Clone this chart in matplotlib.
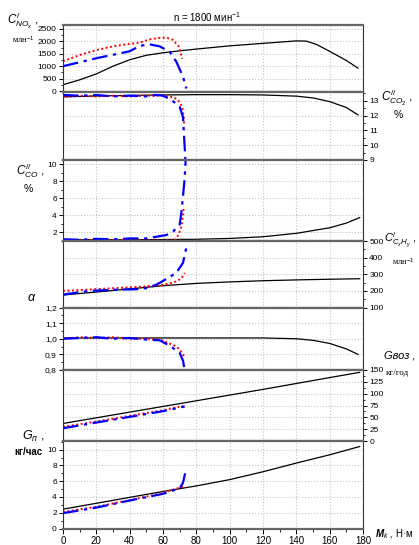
import matplotlib
matplotlib.use('Agg')
import matplotlib.pyplot as plt
from matplotlib.ticker import MultipleLocator, FuncFormatter

plt.rcParams['font.family'] = ['Liberation Sans', 'DejaVu Sans']
plt.rcParams['mathtext.fontset'] = 'custom'
plt.rcParams['mathtext.rm'] = 'Liberation Sans'
plt.rcParams['mathtext.it'] = 'Liberation Sans:italic'
plt.rcParams['mathtext.bf'] = 'Liberation Sans:bold:italic'

# ---- data (x = torque M_k, N*m) ----
# NOx, ppm
nox_k_x = [0, 10, 20, 30, 40, 50, 60, 70, 80, 100, 120, 140, 146, 152, 160, 170, 177]
nox_k_y = [250, 450, 690, 1000, 1260, 1440, 1540, 1620, 1690, 1820, 1920, 2020, 2010, 1880, 1600, 1230, 920]
nox_r_x = [0, 10, 20, 30, 40, 46, 52, 58, 62, 66, 69.5, 70.5, 71.5]
nox_r_y = [1200, 1450, 1650, 1800, 1900, 1950, 2080, 2140, 2150, 2060, 1790, 1580, 1300]
nox_b_x = [0, 10, 20, 30, 40, 46, 52, 58, 64, 68, 72, 74]
nox_b_y = [1000, 1160, 1320, 1460, 1600, 1820, 1880, 1800, 1580, 1180, 580, 100]

# CO2, %
co2_k_x = [0, 20, 40, 60, 80, 100, 120, 140, 150, 160, 170, 177]
co2_k_y = [13.27, 13.33, 13.37, 13.4, 13.42, 13.42, 13.4, 13.32, 13.2, 12.95, 12.55, 12.05]
co2_r_x = [0, 10, 20, 30, 40, 50, 60, 66, 68.5, 70, 71.5, 72.3, 72.8]
co2_r_y = [13.3, 13.35, 13.3, 13.35, 13.3, 13.35, 13.35, 13.25, 13.1, 12.9, 12.6, 12.0, 11.4]
co2_b_x = [0, 10, 20, 30, 40, 50, 56, 60, 65, 70, 72, 73, 73.5]
co2_b_y = [13.4, 13.35, 13.4, 13.3, 13.35, 13.3, 13.4, 13.35, 13.07, 12.6, 11.9, 9.9, 8.8]

# CO, %
co_k_x = [0, 40, 80, 100, 120, 140, 160, 170, 178]
co_k_y = [1.15, 1.15, 1.2, 1.3, 1.5, 1.9, 2.55, 3.1, 3.75]
co_r_x = [0, 20, 40, 60, 67, 69.5, 71, 72, 72.5]
co_r_y = [1.1, 1.1, 1.1, 1.05, 1.05, 1.8, 2.7, 4.1, 5.0]
co_b_x = [0, 10, 20, 30, 40, 50, 56, 62, 66, 70, 71, 72, 73, 73.5, 74]
co_b_y = [1.2, 1.15, 1.25, 1.2, 1.3, 1.3, 1.5, 1.7, 2.1, 2.9, 4.3, 6.3, 8.3, 10.2, 11.5]

# CxHy, ppm
ch_k_x = [0, 20, 40, 60, 80, 100, 120, 140, 160, 178]
ch_k_y = [175, 193, 212, 231, 245, 254, 261, 266, 270, 273]
ch_r_x = [0, 16, 32, 48, 60, 64, 68, 71, 73]
ch_r_y = [200, 208, 217, 226, 237, 245, 257, 275, 308]
ch_b_x = [0, 16, 32, 44, 52, 58, 63, 68, 72, 74]
ch_b_y = [178, 200, 207, 210, 218, 248, 278, 308, 369, 460]

# excess air ratio alpha
al_k_x = [0, 60, 120, 140, 150, 160, 170, 177]
al_k_y = [1.005, 1.005, 1.005, 1.0, 0.99, 0.97, 0.935, 0.9]
al_r_x = [0, 10, 20, 30, 40, 50, 58, 64, 68, 70, 72, 72.6]
al_r_y = [1.0, 1.01, 1.005, 1.01, 1.0, 1.0, 0.995, 0.97, 0.95, 0.93, 0.9, 0.885]
al_b_x = [0, 10, 20, 30, 40, 50, 58, 64, 70, 72, 73]
al_b_y = [1.0, 1.005, 1.01, 1.0, 1.005, 0.995, 0.99, 0.955, 0.91, 0.86, 0.8]

# air flow, kg/h
ga_k_x = [0, 40, 80, 120, 160, 178]
ga_k_y = [37, 61, 85, 109, 134, 145]
ga_r_x = [0, 20, 40, 60, 72]
ga_r_y = [30, 41, 53, 65, 74]
ga_b_x = [0, 20, 40, 60, 73]
ga_b_y = [27, 39, 51, 63, 73]

# fuel flow, kg/h
gf_k_x = [0, 20, 40, 60, 80, 100, 120, 140, 160, 178]
gf_k_y = [2.45, 3.2, 3.95, 4.7, 5.4, 6.2, 7.2, 8.3, 9.35, 10.4]
gf_r_x = [0, 20, 40, 60, 67, 72]
gf_r_y = [2.1, 2.75, 3.6, 4.5, 5.0, 5.3]
gf_b_x = [0, 20, 40, 60, 70, 72, 73.5]
gf_b_y = [1.95, 2.65, 3.55, 4.4, 5.1, 5.8, 7.2]

panels = [
    (nox_k_x, nox_k_y, nox_r_x, nox_r_y, nox_b_x, nox_b_y),
    (co2_k_x, co2_k_y, co2_r_x, co2_r_y, co2_b_x, co2_b_y),
    (co_k_x, co_k_y, co_r_x, co_r_y, co_b_x, co_b_y),
    (ch_k_x, ch_k_y, ch_r_x, ch_r_y, ch_b_x, ch_b_y),
    (al_k_x, al_k_y, al_r_x, al_r_y, al_b_x, al_b_y),
    (ga_k_x, ga_k_y, ga_r_x, ga_r_y, ga_b_x, ga_b_y),
    (gf_k_x, gf_k_y, gf_r_x, gf_r_y, gf_b_x, gf_b_y),
]
# (ylim, major, minor, side)
yaxes = [
    ((-40, 2660), 500, 250, 'left'),
    ((9, 13.6), 1, 0.5, 'right'),
    ((1.0, 10.5), 2, 1, 'left'),
    ((100, 500), 100, 50, 'right'),
    ((0.8, 1.2), 0.1, 0.05, 'left'),
    ((0, 150), 25, 12.5, 'right'),
    ((0, 11.1), 2, 1, 'left'),
]

W, H = 419, 545
fig = plt.figure(figsize=(W / 100, H / 100), dpi=100)
edges = [25, 92, 160, 241, 307.5, 370, 441, 528.5]
x0, x1 = 63 / W, 363 / W

for i, (data, (ylim, maj, mnr, side)) in enumerate(zip(panels, yaxes)):
    top, bot = edges[i], edges[i + 1]
    ax = fig.add_axes([x0, 1 - bot / H, x1 - x0, (bot - top) / H])
    kx, ky, rx, ry, bx, by = data
    ax.plot(kx, ky, color='black', lw=0.9)
    ax.plot(rx, ry, color='red', lw=1.4, ls=(0, (1, 1.3)))
    ax.plot(bx, by, color='blue', lw=1.6, ls=(0, (7, 2.5, 1.5, 2.5)))
    ax.set_xlim(0, 180)
    ax.set_ylim(*ylim)
    ax.xaxis.set_major_locator(MultipleLocator(20))
    ax.xaxis.set_minor_locator(MultipleLocator(10))
    ax.yaxis.set_major_locator(MultipleLocator(maj))
    ax.yaxis.set_minor_locator(MultipleLocator(mnr))
    ax.grid(True, which='major', color='#c4c4c4', ls=':', lw=0.8)
    for s in ('top', 'bottom'):
        ax.spines[s].set_color('#666666')
        ax.spines[s].set_linewidth(1.6)
    for s in ('left', 'right'):
        ax.spines[s].set_color('#333333')
        ax.spines[s].set_linewidth(0.8)
    if side == 'right':
        ax.yaxis.tick_right()
    else:
        ax.yaxis.tick_left()
    ax.tick_params(axis='y', which='major', direction='out', length=3, width=0.7,
                   labelsize=6, pad=1.5)
    ax.tick_params(axis='y', which='minor', direction='out', length=1.5, width=0.6)
    if i == 6:
        ax.tick_params(axis='x', which='major', direction='out', length=3.5, width=0.7,
                       labelsize=7, pad=2)
        ax.tick_params(axis='x', which='minor', direction='out', length=2, width=0.6)
    else:
        ax.tick_params(axis='x', which='both', length=0, labelbottom=False)
    if i == 4:
        ax.yaxis.set_major_formatter(FuncFormatter(lambda v, p: f'{v:.1f}'.replace('.', ',')))
    else:
        ax.yaxis.set_major_formatter(FuncFormatter(lambda v, p: f'{v:g}'))


def ft(px, py, s, **kw):
    fig.text(px / W, 1 - py / H, s, **kw)


serif = ['Liberation Serif', 'DejaVu Serif']
ft(207, 17, 'n = 1800 мин$^{-1}$', fontsize=7, ha='center', va='center')

ft(7, 21, r'$C^{/}_{NO_x}$ ,', fontsize=8.5, ha='left', va='center')
ft(12, 40, 'млн$^{-1}$', fontsize=6, ha='left', va='center', family=serif)

ft(381, 98, r'$C^{//}_{CO_2}$ ,', fontsize=8.5, ha='left', va='center')
ft(398, 115, '%', fontsize=7.5, ha='center', va='center')

ft(16, 171, r'$C^{//}_{CO}$ ,', fontsize=8.5, ha='left', va='center')
ft(28, 189, '%', fontsize=7.5, ha='center', va='center')

ft(384, 240, r'$C^{/}_{C_xH_y}$ ,', fontsize=8, ha='left', va='center')
ft(392, 262, 'млн$^{-1}$', fontsize=6, ha='left', va='center', family=serif)

ft(32, 298, r'$\alpha$', fontsize=9, ha='center', va='center')

ft(384, 356, 'Gвоз ,', fontsize=8, ha='left', va='center', style='italic')
ft(386, 373, 'кг/год', fontsize=6.5, ha='left', va='center', family=serif)

ft(22, 436, r'$G_{п}$ ,', fontsize=9, ha='left', va='center')
ft(14, 452, 'кг/час', fontsize=7, ha='left', va='center', weight='bold')

ft(375, 534, r'$\mathbf{M}_{k}$ , Н·м', fontsize=7, ha='left', va='center')

fig.savefig('out.png', dpi=100)
